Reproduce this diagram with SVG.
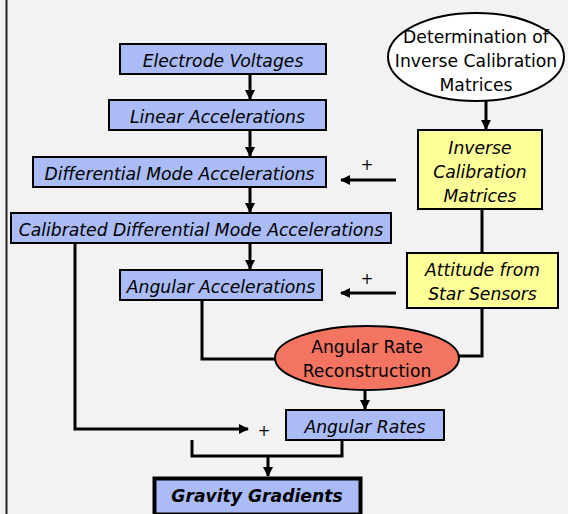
<svg xmlns="http://www.w3.org/2000/svg" width="568" height="514" viewBox="0 0 568 514">
<defs>
<marker id="ah" markerWidth="10" markerHeight="10" refX="9" refY="5" orient="auto" markerUnits="userSpaceOnUse">
<path d="M0,0 L10,5 L0,10 Z" fill="#000"/>
</marker>
<style>
.bx{fill:#aabbf5;stroke:#000;stroke-width:2}
.yb{fill:#ffff99;stroke:#000;stroke-width:2}
.t{font-family:"DejaVu Sans",Verdana,sans-serif;font-size:17.2px;fill:#000;text-anchor:middle}
.p{font-family:"DejaVu Sans",Verdana,sans-serif;font-size:15px;fill:#000;text-anchor:middle}
.i{font-style:italic}
.c{fill:none;stroke:#000;stroke-width:3}
</style>
</defs>
<rect x="0" y="0" width="568" height="514" fill="#f2f2f2"/>
<line x1="6.5" y1="0" x2="6.5" y2="514" stroke="#222" stroke-width="2"/>
<g id="connectors">
<line class="c" x1="250" y1="74" x2="250" y2="99" marker-end="url(#ah)"/>
<line class="c" x1="250" y1="130" x2="250" y2="156" marker-end="url(#ah)"/>
<line class="c" x1="250" y1="187" x2="250" y2="212" marker-end="url(#ah)"/>
<line class="c" x1="250" y1="243" x2="250" y2="269" marker-end="url(#ah)"/>
<line class="c" x1="486" y1="101" x2="486" y2="129" marker-end="url(#ah)"/>
<line class="c" x1="396" y1="180" x2="341" y2="180" marker-end="url(#ah)"/>
<line class="c" x1="482" y1="209" x2="482" y2="253"/>
<line class="c" x1="396" y1="293" x2="341" y2="293" marker-end="url(#ah)"/>
<polyline class="c" points="482,308 482,356 458,356"/>
<polyline class="c" points="202,300 202,359 275,359"/>
<line class="c" x1="365" y1="390" x2="365" y2="409" marker-end="url(#ah)"/>
<polyline class="c" points="75,243 75,429 248,429" marker-end="url(#ah)"/>
<polyline class="c" points="192,440 192,456 342,456 342,440"/>
<line class="c" x1="268" y1="456" x2="268" y2="476" marker-end="url(#ah)"/>
<text class="p" x="367" y="170">+</text>
<text class="p" x="367" y="284">+</text>
<text class="p" x="264" y="436">+</text>
</g>
<g id="electrode"><rect class="bx" x="120" y="44" width="206" height="30"/><text class="t i" x="223" y="66.5">Electrode Voltages</text></g>
<g id="linear"><rect class="bx" x="109" y="100" width="217" height="30"/><text class="t i" x="217.5" y="123">Linear Accelerations</text></g>
<g id="diff"><rect class="bx" x="33" y="157" width="293" height="30"/><text class="t i" x="179.5" y="180">Differential Mode Accelerations</text></g>
<g id="calib"><rect class="bx" x="11" y="213" width="380" height="30"/><text class="t i" x="201" y="236">Calibrated Differential Mode Accelerations</text></g>
<g id="angacc"><rect class="bx" x="120" y="270" width="202" height="30"/><text class="t i" x="221" y="292.5">Angular Accelerations</text></g>
<g id="angrates"><rect class="bx" x="286" y="410" width="158" height="30"/><text class="t i" x="365" y="432.5">Angular Rates</text></g>
<g id="gravity"><rect x="154.5" y="478.5" width="206" height="36" fill="#aabbf5" stroke="#000" stroke-width="4"/><text class="t i" x="257" y="502" font-weight="bold">Gravity Gradients</text></g>
<g id="determination"><ellipse cx="476" cy="57" rx="88" ry="44" fill="#fff" stroke="#000" stroke-width="2"/><text class="t" x="476" y="42.5">Determination of</text><text class="t" x="476" y="66.5">Inverse Calibration</text><text class="t" x="476" y="90.5">Matrices</text></g>
<g id="invcal"><rect class="yb" x="418" y="130" width="124" height="79"/><text class="t i" x="480" y="154">Inverse</text><text class="t i" x="480" y="178">Calibration</text><text class="t i" x="480" y="202">Matrices</text></g>
<g id="attitude"><rect class="yb" x="407" y="253" width="151" height="55"/><text class="t i" x="482.5" y="276">Attitude from</text><text class="t i" x="482.5" y="300">Star Sensors</text></g>
<g id="reconstruction"><ellipse cx="367" cy="358" rx="92" ry="32" fill="#f47462" stroke="#000" stroke-width="2"/><text class="t" x="367" y="352.5">Angular Rate</text><text class="t" x="367" y="376.5">Reconstruction</text></g>
</svg>
